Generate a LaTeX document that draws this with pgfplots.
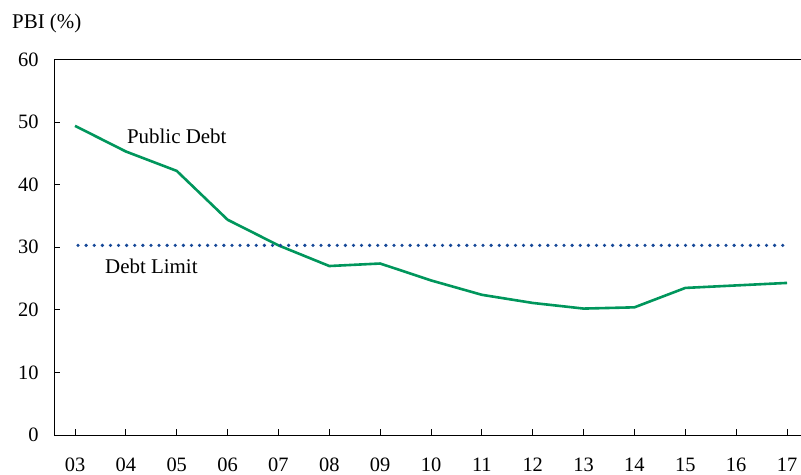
\documentclass[border=0pt]{standalone}
\usepackage{fontspec}
\setmainfont{Liberation Serif}
\usepackage{pgfplots}
\pgfplotsset{compat=1.18}
\definecolor{debtgreen}{RGB}{0,150,92}
\definecolor{limitblue}{RGB}{22,72,152}
\begin{document}
\begin{tikzpicture}
\begin{axis}[
  scale only axis,
  width=747bp, height=375.5bp,
  xmin=2.587, xmax=17.275,
  ymin=0, ymax=60,
  axis x line*=box, axis y line*=left,
  xtick={3,...,17},
  xticklabels={03,04,05,06,07,08,09,10,11,12,13,14,15,16,17},
  ytick={0,10,...,60},
  xtick pos=bottom, ytick pos=left,
  tick align=inside,
  major tick length=6bp,
  tick style={black, line width=0.8bp},
  axis line style={black, line width=1bp},
  /pgf/number format/assume math mode=true,
  ticklabel style={font=\fontsize{20.5}{24}\selectfont},
  yticklabel style={xshift=-12bp},
  xticklabel style={yshift=-19bp},
  clip=false,
]
\addplot[debtgreen, line width=2.6bp] coordinates {
  (3,49.4) (4,45.3) (5,42.2) (6,34.4) (7,30.3) (8,27.0) (9,27.4) (10,24.7)
  (11,22.4) (12,21.1) (13,20.2) (14,20.4) (15,23.5) (16,23.9) (17,24.3)
};
\addplot[limitblue, line width=3.6bp, line cap=round, dash pattern=on 0pt off 8.1bp] coordinates {
  (3.06,30.3) (17,30.3)
};
\node[anchor=west, inner sep=0pt, font=\fontsize{21}{24}\selectfont] at (axis cs:4.02,47.8) {Public Debt};
\node[anchor=west, inner sep=0pt, font=\fontsize{21}{24}\selectfont] at (axis cs:3.59,27.0) {Debt Limit};
\node[anchor=west, inner sep=0pt, font=\fontsize{21}{24}\selectfont] at ([xshift=-42bp,yshift=36bp]rel axis cs:0,1) {PBI (\%)};
\end{axis}
\pgfresetboundingbox
\path[use as bounding box] ([xshift=-54bp,yshift=-40bp]current axis.south west) rectangle ([yshift=59.5bp]current axis.north east);
\end{tikzpicture}
\end{document}
